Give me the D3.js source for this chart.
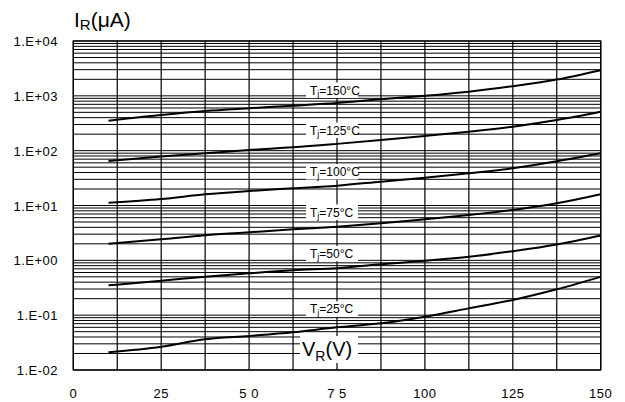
<!DOCTYPE html>
<html lang='en'>
  <head>
    <meta charset='utf-8'>
    <style>
      body { margin: 0; background: #fff; }
      svg { display: block; font-family: 'Liberation Sans', Arial, sans-serif; }
    </style>
  </head>
  <body>
    <div id='chart'></div>

    <script src='https://cdn.jsdelivr.net/npm/d3@7/dist/d3.min.js'></script>
    <script>
      // reverse voltage (V) where the curves were read
      var vr = [10, 25, 37.5, 50, 62.5, 75, 87.5, 100, 112.5, 125, 137.5, 150];

      // reverse current (uA) per junction temperature
      var tj150 = [352, 447, 528, 593, 661, 740, 865, 1000, 1190, 1500, 1980, 2940];
      var tj125 = [65, 78, 90, 103, 115, 133, 156, 185, 222, 274, 362, 513];
      var tj100 = [11.2, 13.1, 16.0, 18.4, 20.6, 23, 27.2, 32.1, 38.6, 47.7, 64, 89.6];
      var tj75 = [2.0, 2.42, 2.86, 3.24, 3.68, 4.1, 4.73, 5.6, 6.7, 8.3, 11, 16];
      var tj50 = [0.35, 0.425, 0.50, 0.58, 0.66, 0.72, 0.845, 0.98, 1.16, 1.47, 1.95, 2.85];
      var tj25 = [0.021, 0.0266, 0.0363, 0.0417, 0.0487, 0.06, 0.071, 0.094, 0.133, 0.189, 0.296, 0.50];

      var seriesNames = ['150', '125', '100', '75', '50', '25'];
      var seriesValues = [tj150, tj125, tj100, tj75, tj50, tj25];

      // tick values / labels
      var xTicks = [0, 25, 50, 75, 100, 125, 150];
      var xTickLabels = ['0', '25', '5 0', '7 5', '100', '125', '150'];
      var yTicks = [1e-2, 1e-1, 1e0, 1e1, 1e2, 1e3, 1e4];
      var yTickLabels = ['1.E-02', '1.E-01', '1.E+00', '1.E+01', '1.E+02', '1.E+03', '1.E+04'];

      (function () {
        var width = 625, height = 402;
        var pLeft = 73.3, pRight = 600.7, pTop = 41, pBottom = 370;

        var svg = d3.select('#chart').append('svg')
            .attr('width', width)
            .attr('height', height);

        var x = d3.scaleLinear().domain([0, 150]).range([pLeft, pRight]);
        var y = d3.scaleLog().domain([1e-2, 1e4]).range([pBottom, pTop]);

        // horizontal grid: every decade plus 2..9 minor lines
        var hLines = [];
        for (var e = -2; e < 4; e++) {
          for (var k = 1; k < 10; k++) hLines.push(k * Math.pow(10, e));
        }
        hLines.push(1e4);

        var grid = svg.append('g');
        grid.selectAll('line.h')
            .data(hLines)
          .enter().append('line')
            .attr('class', 'h')
            .attr('x1', pLeft).attr('x2', pRight)
            .attr('y1', function (d) { return y(d); })
            .attr('y2', function (d) { return y(d); })
            .attr('stroke', '#000')
            .attr('stroke-width', 1);

        // vertical grid every 12.5 V
        grid.selectAll('line.v')
            .data(d3.range(0, 150.1, 12.5))
          .enter().append('line')
            .attr('class', 'v')
            .attr('x1', function (d) { return x(d); })
            .attr('x2', function (d) { return x(d); })
            .attr('y1', pTop).attr('y2', pBottom)
            .attr('stroke', '#000')
            .attr('stroke-width', 1.2);

        svg.append('rect')
            .attr('x', pLeft).attr('y', pTop)
            .attr('width', pRight - pLeft).attr('height', pBottom - pTop)
            .attr('fill', 'none')
            .attr('stroke', '#000')
            .attr('stroke-width', 1.3);

        // curves
        var line = d3.line()
            .x(function (d) { return x(d[0]); })
            .y(function (d) { return y(d[1]); })
            .curve(d3.curveMonotoneX);

        svg.append('g').selectAll('path')
            .data(seriesValues)
          .enter().append('path')
            .attr('d', function (vals) { return line(vr.map(function (v, i) { return [v, vals[i]]; })); })
            .attr('fill', 'none')
            .attr('stroke', '#000')
            .attr('stroke-width', 2);

        // curve labels sit on a white box over the grid
        var labelAt = [1057, 197, 34.5, 6.3, 1.11, 0.108];
        var labels = svg.append('g');
        seriesNames.forEach(function (name, i) {
          var g = labels.append('g');
          var box = g.append('rect').attr('fill', '#fff');
          var t = g.append('text')
              .attr('x', 310)
              .attr('y', y(labelAt[i]))
              .attr('font-size', 12)
              .attr('fill', '#000');
          t.append('tspan').text('T');
          t.append('tspan').attr('font-size', 9).attr('dy', 2.5).text('j');
          t.append('tspan').attr('dy', -2.5).text('=' + name + '°C');
          var bb = t.node().getBBox();
          box.attr('x', 306).attr('y', bb.y - 1)
             .attr('width', 52).attr('height', bb.height);
        });

        // axis tick labels
        svg.append('g').selectAll('text')
            .data(yTicks)
          .enter().append('text')
            .attr('x', 58)
            .attr('y', function (d) { return y(d) + 5; })
            .attr('text-anchor', 'end')
            .attr('font-size', 13)
            .attr('letter-spacing', 0.5)
            .text(function (d, i) { return yTickLabels[i]; });

        svg.append('g').selectAll('text')
            .data(xTicks)
          .enter().append('text')
            .attr('x', function (d) { return x(d); })
            .attr('y', 398)
            .attr('text-anchor', 'middle')
            .attr('font-size', 13)
            .attr('letter-spacing', 0.5)
            .text(function (d, i) { return xTickLabels[i]; });

        // axis titles
        var yt = svg.append('text').attr('x', 74).attr('y', 26.5).attr('font-size', 21);
        yt.append('tspan').text('I');
        yt.append('tspan').attr('font-size', 15).attr('dy', 3.5).text('R');
        yt.append('tspan').attr('dy', -3.5).text('(μA)');

        svg.append('rect')
            .attr('x', 300).attr('y', 336)
            .attr('width', 58).attr('height', 27)
            .attr('fill', '#fff');
        var xt = svg.append('text').attr('x', 302).attr('y', 355.5).attr('font-size', 20);
        xt.append('tspan').text('V');
        xt.append('tspan').attr('font-size', 14).attr('dy', 5).text('R');
        xt.append('tspan').attr('dy', -5).text('(V)');
      })();
    </script>
  </body>
</html>
